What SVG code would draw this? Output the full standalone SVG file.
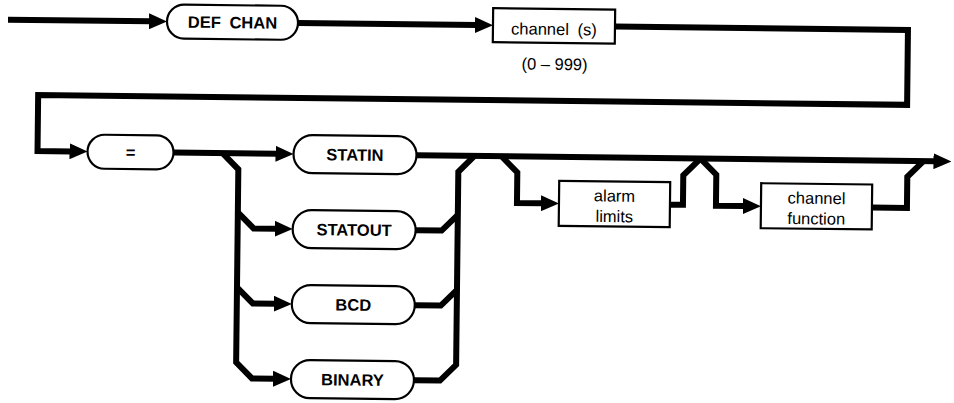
<svg xmlns="http://www.w3.org/2000/svg" width="954" height="403" viewBox="0 0 954 403">
  <style>
    .wire { fill: none; stroke: #000; stroke-width: 6; stroke-linejoin: miter; stroke-linecap: butt; }
    .arrow { marker-end: url(#ah); }
    .pill, .box { fill: #fff; stroke: #000; stroke-width: 2.2; }
    .kw { font-family: "Liberation Sans", Arial, sans-serif; font-weight: bold; font-size: 16.5px; text-anchor: middle; fill: #000; }
    .lbl { font-family: "Liberation Sans", Arial, sans-serif; font-size: 16.5px; text-anchor: middle; fill: #000; }
  </style>
  <defs>
    <marker id="ah" viewBox="0 0 18 16" refX="2" refY="8" markerWidth="18" markerHeight="16" markerUnits="userSpaceOnUse" orient="auto">
      <path d="M0,0 L18,8 L0,16 z" fill="#000"/>
    </marker>
  </defs>
  <rect width="954" height="403" fill="#fff"/>
  <g transform="rotate(0.65 477 200)">
    <g id="connectors">
      <!-- first line -->
      <path class="wire arrow" d="M6,25 H149"/>
      <path class="wire arrow" d="M296,25 H475"/>
      <path class="wire arrow" d="M613,25 H906 V100 H37 V156 H71"/>
      <!-- second line -->
      <path class="wire arrow" d="M173,156 H277"/>
      <path class="wire arrow" d="M416,156 H935"/>
      <!-- choice fan-out -->
      <path class="wire arrow" d="M222,156 L238,172 V365 L254,381 H277"/>
      <path class="wire arrow" d="M238,215 L254,231 H277"/>
      <path class="wire arrow" d="M238,290 L254,306 H277"/>
      <!-- choice fan-in -->
      <path class="wire" d="M416,381 H442 L458,365 V172 L474,156"/>
      <path class="wire" d="M416,231 H442 L458,215"/>
      <path class="wire" d="M416,306 H442 L458,290"/>
      <!-- optional alarm limits -->
      <path class="wire arrow" d="M501,156 L517,172 V202.5 H543"/>
      <path class="wire" d="M670,202.5 H683 V173 L700,156"/>
      <!-- optional channel function -->
      <path class="wire arrow" d="M700,156 L716,172 V203 H745"/>
      <path class="wire" d="M872,203 H907 V172 L923,156"/>
    </g>
    <g id="def-chan">
      <rect class="pill" x="165" y="8" width="131" height="34" rx="17"/>
      <text class="kw" x="230.5" y="31" word-spacing="4">DEF CHAN</text>
    </g>
    <g id="channels">
      <rect class="box" x="491" y="8" width="122" height="34"/>
      <text class="lbl" x="552" y="34" word-spacing="4">channel (s)</text>
      <text class="lbl" x="553" y="69">(0 – 999)</text>
    </g>
    <g id="equals">
      <rect class="pill" x="87" y="139" width="86" height="34" rx="17"/>
      <text class="kw" x="130" y="162">=</text>
    </g>
    <g id="statin">
      <rect class="pill" x="293" y="137" width="123" height="38" rx="19"/>
      <text class="kw" x="354.5" y="162">STATIN</text>
    </g>
    <g id="statout">
      <rect class="pill" x="293" y="212" width="123" height="38" rx="19"/>
      <text class="kw" x="354.5" y="237">STATOUT</text>
    </g>
    <g id="bcd">
      <rect class="pill" x="293" y="287" width="123" height="38" rx="19"/>
      <text class="kw" x="354.5" y="312">BCD</text>
    </g>
    <g id="binary">
      <rect class="pill" x="293" y="362" width="123" height="38" rx="19"/>
      <text class="kw" x="354.5" y="387">BINARY</text>
    </g>
    <g id="alarm-limits">
      <rect class="box" x="559" y="180" width="111" height="45"/>
      <text class="lbl" x="614.5" y="200">alarm</text>
      <text class="lbl" x="614.5" y="220.5">limits</text>
    </g>
    <g id="channel-function">
      <rect class="box" x="761" y="180" width="111" height="45"/>
      <text class="lbl" x="816.5" y="200">channel</text>
      <text class="lbl" x="816.5" y="220.5">function</text>
    </g>
  </g>
</svg>
